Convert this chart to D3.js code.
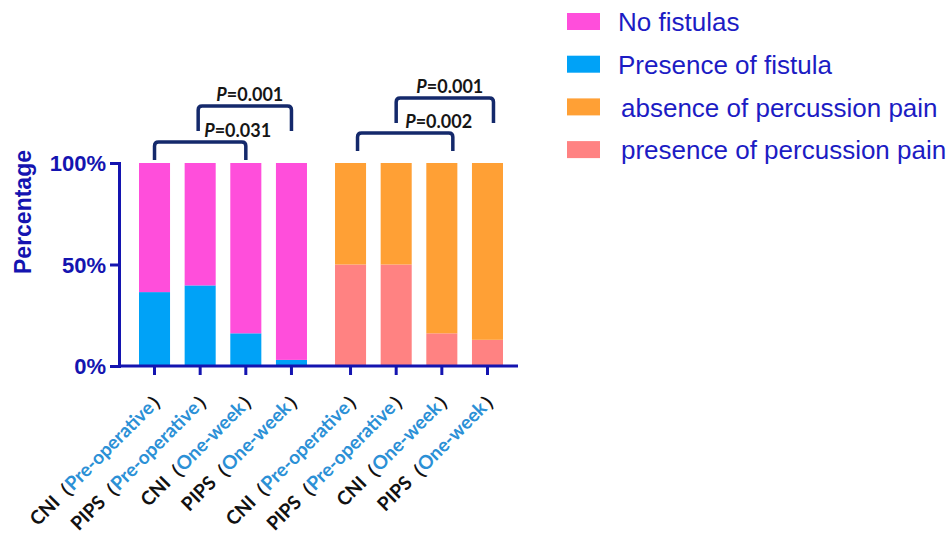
<!DOCTYPE html>
<html>
<head>
<meta charset="utf-8">
<script src="https://cdn.jsdelivr.net/npm/d3@7"></script>
<style>
  body { margin: 0; background: #fff; }
  svg { display: block; }
</style>
</head>
<body>
<div id="chart"></div>
<script>
  // Data
  var groups = ['fistula', 'pain'];
  var methods = ['CNI', 'PIPS', 'CNI', 'PIPS'];
  var timepoints = ['Pre-operative', 'Pre-operative', 'One-week', 'One-week'];
  var fistulaPresent = [36.4, 39.7, 16.1, 3.0];
  var painPresent = [50, 50, 16.1, 12.9];
  var yTicks = [0, 50, 100];
  var legendLabels = ['No fistulas', 'Presence of fistula', 'absence of percussion pain', 'presence of percussion pain'];
  var comparisons = [
    { group: 'fistula', from: 0, to: 2, p: '0.031', level: 0 },
    { group: 'fistula', from: 1, to: 3, p: '0.001', level: 1 },
    { group: 'pain', from: 0, to: 2, p: '0.002', level: 0 },
    { group: 'pain', from: 1, to: 3, p: '0.001', level: 1 }
  ];

  var colors = {
    fistula: { present: '#00a2f7', absent: '#ff4edb' },
    pain: { present: '#ff8282', absent: '#ffa035' }
  };
  var legendColors = ['#ff4edb', '#00a2f7', '#ffa035', '#ff8282'];
  var axisColor = '#1414b0';

  var width = 949;
  var height = 538;

  var svg = d3.select('#chart').append('svg')
    .attr('width', width)
    .attr('height', height);

  var x0 = d3.scaleBand().domain(groups).range([139, 503]).paddingInner(0.143);
  var x1 = d3.scaleBand().domain(d3.range(4)).range([0, x0.bandwidth()]).paddingInner(0.32);
  var y = d3.scaleLinear().domain([0, 100]).range([366, 163]);

  function cx(g, i) { return x0(g) + x1(i) + x1.bandwidth() / 2; }

  // Bars: present on the bottom, absent stacked above
  var rows = [];
  groups.forEach(function(g) {
    var present = g === 'fistula' ? fistulaPresent : painPresent;
    present.forEach(function(v, i) {
      rows.push({ group: g, idx: i, present: v, absent: 100 - v });
    });
  });
  var stack = d3.stack().keys(['present', 'absent']);
  var series = stack(rows);

  series.forEach(function(s) {
    svg.append('g').selectAll('rect')
      .data(s)
      .enter().append('rect')
      .attr('x', function(d) { return x0(d.data.group) + x1(d.data.idx); })
      .attr('width', x1.bandwidth())
      .attr('y', function(d) { return y(d[1]); })
      .attr('height', function(d) { return y(d[0]) - y(d[1]); })
      .attr('fill', function(d) { return colors[d.data.group][s.key]; });
  });

  // Y axis
  var yAxis = d3.axisLeft(y)
    .tickValues(yTicks)
    .tickFormat(function(d) { return d + '%'; })
    .tickSize(9)
    .tickPadding(4);
  var yg = svg.append('g')
    .attr('transform', 'translate(119,0)')
    .call(yAxis);
  yg.select('.domain').attr('stroke', axisColor).attr('stroke-width', 3);
  yg.selectAll('.tick line').attr('stroke', axisColor).attr('stroke-width', 3);
  yg.selectAll('.tick text')
    .attr('fill', axisColor)
    .style('font-family', 'Liberation Sans, Arial, sans-serif')
    .style('font-weight', 'bold')
    .style('font-size', '22px')
    .attr('dy', '0.36em');

  // X axis line and ticks
  svg.append('line')
    .attr('x1', 118).attr('x2', 518)
    .attr('y1', 366).attr('y2', 366)
    .attr('stroke', axisColor).attr('stroke-width', 3);

  rows.forEach(function(r) {
    var tx = cx(r.group, r.idx);
    svg.append('line')
      .attr('x1', tx).attr('x2', tx)
      .attr('y1', 366).attr('y2', 375)
      .attr('stroke', axisColor).attr('stroke-width', 3);

    var label = svg.append('text')
      .attr('transform', 'translate(' + (tx + 14) + ',396) rotate(-45)')
      .attr('text-anchor', 'end')
      .style('font-family', 'Lato, Open Sans, sans-serif')
      .style('font-weight', 'bold')
      .style('font-size', '19px');
    label.append('tspan').attr('fill', '#111').text(methods[r.idx]);
    label.append('tspan').attr('fill', '#111').attr('dx', -1).text('（');
    label.append('tspan').attr('fill', '#2b90d6').attr('dx', -1).text(timepoints[r.idx]);
    label.append('tspan').attr('fill', '#111').text('）');
  });

  // Y axis title
  svg.append('text')
    .attr('transform', 'translate(31,212) rotate(-90)')
    .attr('text-anchor', 'middle')
    .attr('fill', axisColor)
    .style('font-family', 'Liberation Sans, Arial, sans-serif')
    .style('font-weight', 'bold')
    .style('font-size', '23px')
    .text('Percentage');

  // Significance brackets
  var bracketTop = { fistula: [142, 106], pain: [133, 98] };
  var legLength = [18, 25];
  comparisons.forEach(function(c) {
    var xa = cx(c.group, c.from);
    var xb = cx(c.group, c.to);
    if (c.group === 'pain' && c.level === 0) { xa += 7; xb += 11; }
    if (c.group === 'pain' && c.level === 1) { xb += 6; }
    if (c.group === 'fistula' && c.level === 1) { xa -= 2; }
    var top = bracketTop[c.group][c.level];
    var bottom = top + legLength[c.level];
    var r = 4;
    svg.append('path')
      .attr('d', 'M' + xa + ',' + bottom + 'V' + (top + r) + 'Q' + xa + ',' + top + ' ' + (xa + r) + ',' + top +
        'H' + (xb - r) + 'Q' + xb + ',' + top + ' ' + xb + ',' + (top + r) + 'V' + bottom)
      .attr('fill', 'none')
      .attr('stroke', '#14296b')
      .attr('stroke-width', 3.5);

    var t = svg.append('text')
      .attr('y', top - 5)
      .attr('fill', '#161616')
      .style('font-family', 'Lato, Open Sans, sans-serif')
      .style('font-weight', 'bold')
      .style('font-size', '18px');
    if (c.level === 0) {
      var upperFrom = cx(c.group, c.from + 1) + (c.group === 'fistula' ? -2 : 0);
      t.attr('x', upperFrom + (c.group === 'fistula' ? 6 : 9)).attr('text-anchor', 'start');
    } else {
      t.attr('x', (xa + xb) / 2 + 5).attr('text-anchor', 'middle');
    }
    t.append('tspan').style('font-style', 'italic').text('P');
    t.append('tspan').text('=' + c.p);
  });

  // Legend
  var legend = svg.append('g').selectAll('g')
    .data(legendLabels)
    .enter().append('g')
    .attr('transform', function(d, i) { return 'translate(567,' + (13 + i * 42.7) + ')'; });
  legend.append('rect')
    .attr('width', 33)
    .attr('height', 17)
    .attr('fill', function(d, i) { return legendColors[i]; });
  legend.append('text')
    .attr('x', function(d, i) { return i < 2 ? 51 : 54; })
    .attr('y', 9)
    .attr('dy', '0.36em')
    .attr('fill', '#1c1cc4')
    .style('font-family', 'Liberation Sans, Arial, sans-serif')
    .style('font-size', '26px')
    .text(function(d) { return d; });
</script>
</body>
</html>
